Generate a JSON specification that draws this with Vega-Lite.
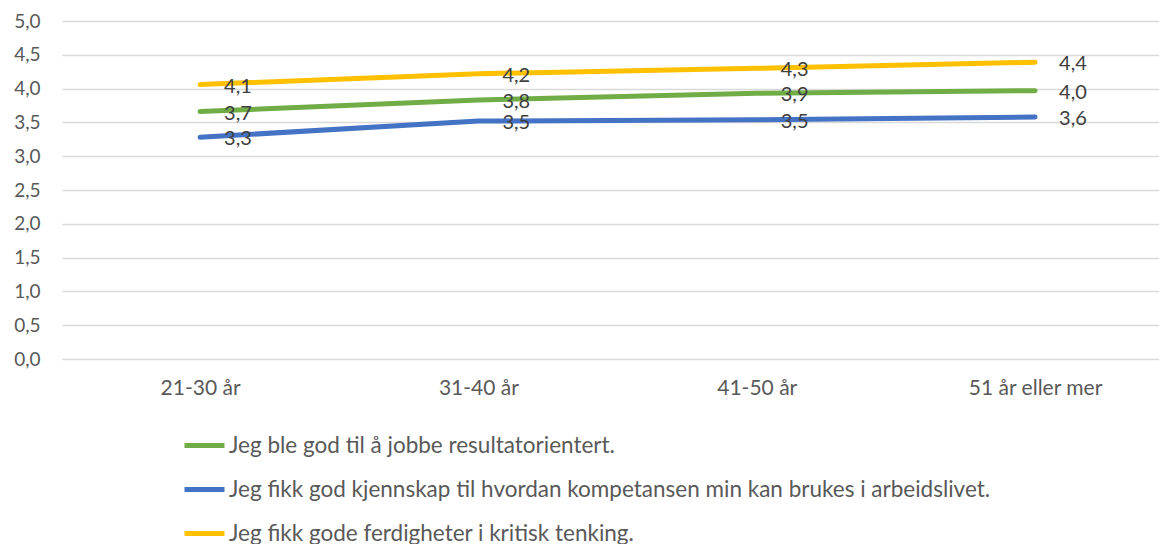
{
  "$schema": "https://vega.github.io/schema/vega-lite/v6.json",
  "width": 1097,
  "height": 338,
  "autosize": {"type": "none"},
  "padding": {"left": 62, "top": 21, "right": 0, "bottom": 185},
  "config": {
    "locale": {"number": {"decimal": ",", "thousands": " ", "grouping": [3], "currency": ["", " kr"]}},
    "view": {"stroke": null},
    "font": "Lato"
  },
  "data": {
    "values": [
      {"alder": "21-30 år", "serie": "Jeg ble god til å jobbe resultatorientert.", "verdi": 3.66},
      {"alder": "31-40 år", "serie": "Jeg ble god til å jobbe resultatorientert.", "verdi": 3.83},
      {"alder": "41-50 år", "serie": "Jeg ble god til å jobbe resultatorientert.", "verdi": 3.93},
      {"alder": "51 år eller mer", "serie": "Jeg ble god til å jobbe resultatorientert.", "verdi": 3.97},
      {"alder": "21-30 år", "serie": "Jeg fikk god kjennskap til hvordan kompetansen min kan brukes i arbeidslivet.", "verdi": 3.28},
      {"alder": "31-40 år", "serie": "Jeg fikk god kjennskap til hvordan kompetansen min kan brukes i arbeidslivet.", "verdi": 3.52},
      {"alder": "41-50 år", "serie": "Jeg fikk god kjennskap til hvordan kompetansen min kan brukes i arbeidslivet.", "verdi": 3.54},
      {"alder": "51 år eller mer", "serie": "Jeg fikk god kjennskap til hvordan kompetansen min kan brukes i arbeidslivet.", "verdi": 3.58},
      {"alder": "21-30 år", "serie": "Jeg fikk gode ferdigheter i kritisk tenking.", "verdi": 4.06},
      {"alder": "31-40 år", "serie": "Jeg fikk gode ferdigheter i kritisk tenking.", "verdi": 4.22},
      {"alder": "41-50 år", "serie": "Jeg fikk gode ferdigheter i kritisk tenking.", "verdi": 4.3},
      {"alder": "51 år eller mer", "serie": "Jeg fikk gode ferdigheter i kritisk tenking.", "verdi": 4.39}
    ]
  },
  "encoding": {
    "x": {
      "field": "alder",
      "type": "ordinal",
      "sort": ["21-30 år", "31-40 år", "41-50 år", "51 år eller mer"],
      "scale": {"type": "point", "padding": 0.4707, "align": 0.527},
      "axis": {
        "title": null,
        "labelAngle": 0,
        "domain": false,
        "ticks": false,
        "grid": false,
        "labelPadding": 18,
        "labelFontSize": 21,
        "labelColor": "#595959"
      }
    },
    "y": {
      "field": "verdi",
      "type": "quantitative",
      "scale": {"domain": [0, 5]},
      "axis": {
        "title": null,
        "values": [0, 0.5, 1, 1.5, 2, 2.5, 3, 3.5, 4, 4.5, 5],
        "format": ".1f",
        "domain": false,
        "ticks": false,
        "labelPadding": 22,
        "labelFontSize": 19,
        "labelColor": "#595959",
        "gridColor": "#d9d9d9",
        "gridWidth": 1.5
      }
    },
    "color": {
      "field": "serie",
      "type": "nominal",
      "scale": {
        "domain": [
          "Jeg ble god til å jobbe resultatorientert.",
          "Jeg fikk god kjennskap til hvordan kompetansen min kan brukes i arbeidslivet.",
          "Jeg fikk gode ferdigheter i kritisk tenking."
        ],
        "range": ["#70AD47", "#4472C4", "#FFC000"]
      },
      "legend": {
        "title": null,
        "orient": "none",
        "legendX": 120,
        "legendY": 402,
        "direction": "vertical",
        "symbolType": "stroke",
        "symbolSize": 1600,
        "symbolStrokeWidth": 5,
        "labelFontSize": 22.5,
        "labelColor": "#595959",
        "labelLimit": 1000,
        "labelOffset": 2,
        "rowPadding": 10
      }
    }
  },
  "layer": [
    {"mark": {"type": "line", "strokeWidth": 5, "strokeCap": "round", "strokeJoin": "round"}},
    {
      "mark": {"type": "text", "align": "left", "baseline": "middle", "dx": 24, "dy": 2, "fontSize": 20},
      "encoding": {
        "text": {"field": "verdi", "type": "quantitative", "format": ".1f"},
        "color": {"value": "#404040"}
      }
    }
  ]
}
